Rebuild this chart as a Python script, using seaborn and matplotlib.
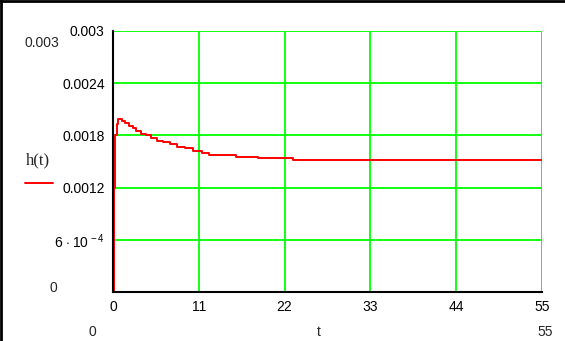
import numpy as np
import pandas as pd
import matplotlib
matplotlib.use("Agg")
import matplotlib.pyplot as plt
import seaborn as sns
from matplotlib.lines import Line2D

# data
t_vals = [0, 0.15, 0.3, 0.45, 0.6, 1.1, 1.5, 2.0, 2.5, 3.0, 3.6, 4.2, 4.9, 5.6,
          6.4, 7.3, 8.2, 9.2, 10.3, 11.4, 12.3, 13.9, 15.8, 18.6, 23.1, 55]
h_vals = [0, 0.0012, 0.0018, 0.00193, 0.00199, 0.00197, 0.00194, 0.00191,
          0.00188, 0.00185, 0.00182, 0.00180, 0.00177, 0.00174, 0.00172,
          0.00170, 0.00167, 0.00165, 0.00162, 0.00160, 0.00158, 0.001575,
          0.00155, 0.00154, 0.00152, 0.00152]
x_ticks = [0, 11, 22, 33, 44, 55]
y_ticks = [0, 0.0006, 0.0012, 0.0018, 0.0024, 0.003]
y_tick_labels = ["", r"$6\,\cdot10^{\,-4}$", "0.0012", "0.0018", "0.0024", "0.003"]

sns.set_style("white")
FONT = ["Liberation Sans", "DejaVu Sans"]
plt.rcParams["font.family"] = FONT
plt.rcParams["mathtext.fontset"] = "custom"
plt.rcParams["mathtext.rm"] = "Liberation Sans"
plt.rcParams["mathtext.it"] = "Liberation Sans"
plt.rcParams["mathtext.default"] = "rm"

W, H = 565, 341
fig = plt.figure(figsize=(W / 100, H / 100), dpi=100)
ax = fig.add_axes([113 / W, 1 - 292 / H, (542 - 113) / W, (292 - 31) / H])

df = pd.DataFrame({"t": t_vals, "h": h_vals})
sns.lineplot(data=df, x="t", y="h", ax=ax, color="#ff0000", linewidth=1.4,
             drawstyle="steps-post", estimator=None, sort=False, zorder=5)

ax.set_xlim(0, 55)
ax.set_ylim(0, 0.003)
ax.set_xticks(x_ticks)
ax.set_xticklabels([str(v) for v in x_ticks])
ax.set_yticks(y_ticks)
ax.set_yticklabels(y_tick_labels)
ax.set_xlabel("")
ax.set_ylabel("")
ax.grid(True, color="#00ff00", linewidth=1.3)
ax.set_axisbelow(True)
for s in ["top", "right"]:
    ax.spines[s].set_visible(False)
for s in ["left", "bottom"]:
    ax.spines[s].set_color("black")
    ax.spines[s].set_linewidth(1.5)
    ax.spines[s].set_zorder(6)
ax.tick_params(axis="both", direction="inout", length=8, width=1.2,
               colors="black", labelsize=10)
ax.tick_params(axis="y", pad=2)
ax.tick_params(axis="x", pad=2)

def fx(x):
    return x / W

def fy(y):
    return 1 - y / H

fig.text(fx(42), fy(43), "0.003", fontsize=10, ha="center", va="center")
fig.text(fx(53), fy(288), "0", fontsize=10, ha="center", va="center")
fig.text(fx(38), fy(160), "h(t)", fontsize=12, ha="center", va="center",
         family=["Liberation Serif", "DejaVu Serif"])
fig.add_artist(Line2D([fx(25), fx(53)], [fy(183), fy(183)], color="#ff0000",
                      linewidth=1.4, transform=fig.transFigure))
fig.text(fx(92), fy(325), "0", fontsize=10, ha="center", va="top")
fig.text(fx(319), fy(325), "t", fontsize=10, ha="center", va="top")
fig.text(fx(545), fy(325), "55", fontsize=10, ha="center", va="top")

# picture frame (top and left)
fig.add_artist(Line2D([0, 1], [fy(1), fy(1)], color="black", linewidth=2,
                      transform=fig.transFigure))
fig.add_artist(Line2D([fx(1), fx(1)], [0, 1], color="black", linewidth=2,
                      transform=fig.transFigure))

fig.savefig("out.png", dpi=100)
